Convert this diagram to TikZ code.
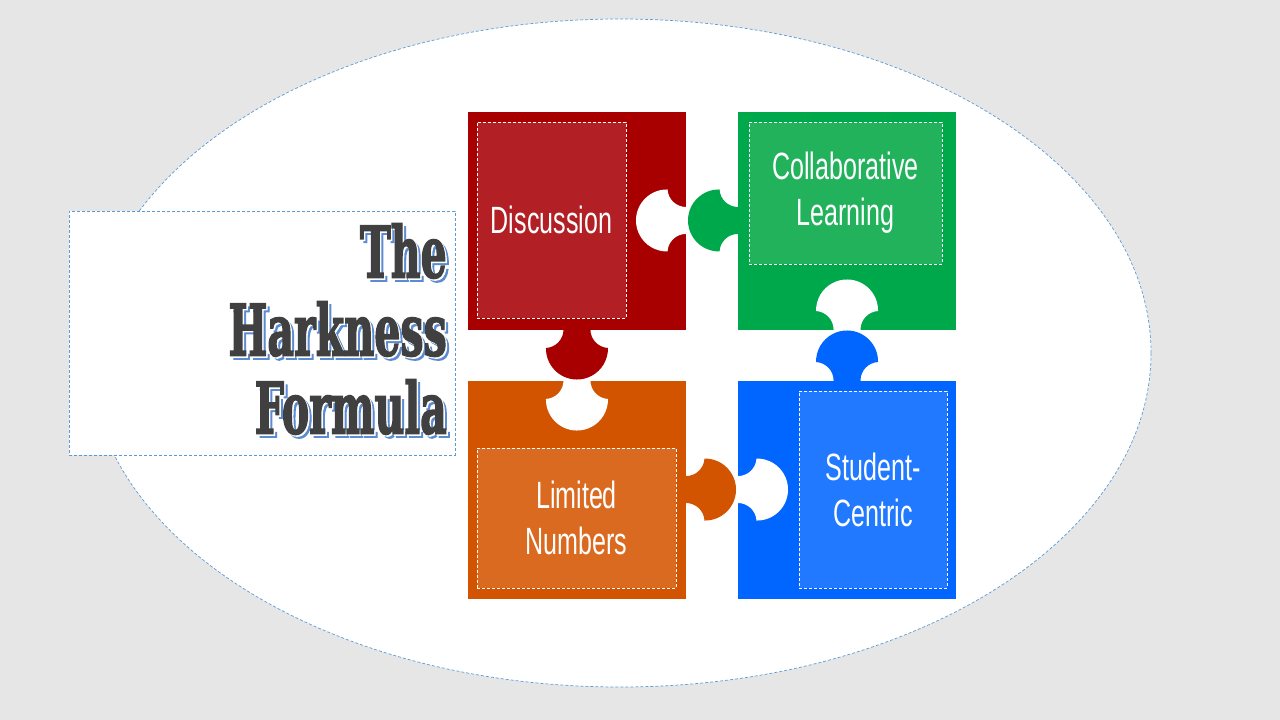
\documentclass[tikz,border=0pt]{standalone}
\usepackage{fontspec}
\usepackage{graphicx}
\usepackage{xcolor}
\usepackage{tikz}
\setmainfont{Liberation Sans}
\newfontfamily\piecefont{Liberation Sans}
\newfontfamily\titlefont{DejaVu Serif}[BoldFeatures={FakeBold=2.5}]

\definecolor{slide}{HTML}{E7E6E6}
\definecolor{outline}{HTML}{5B9BD5}
\definecolor{redD}{HTML}{A80000}
\definecolor{redL}{HTML}{B21F24}
\definecolor{greenD}{HTML}{00A84C}
\definecolor{greenL}{HTML}{22B25C}
\definecolor{orangeD}{HTML}{D25400}
\definecolor{orangeL}{HTML}{DA6A20}
\definecolor{blueD}{HTML}{0066FF}
\definecolor{blueL}{HTML}{2179FF}
\definecolor{ink}{HTML}{404040}
\definecolor{shade}{HTML}{5B8BD0}

\newcommand\squeeze[1]{\scalebox{0.66}[1]{#1}}
\newcommand\narrow[1]{\scalebox{0.58}[1]{#1}}

\tikzset{
  knob/.pic={
    \fill[pic actions] (-13.5,-1) -- (-13.5,0)
      arc[start angle=0,end angle=87,radius=18.5]
      arc[start angle=181,end angle=-1,radius=31]
      arc[start angle=93,end angle=180,radius=18.5]
      -- (13.5,-1) -- cycle;
  },
  piece/.style={minimum size=218pt, inner sep=0pt, outer sep=0pt},
  tag/.style={draw=white, dash pattern=on 3pt off 2pt, line width=0.6pt,
    text=white, inner sep=0pt, align=center,
    font=\piecefont\fontsize{38}{46}\selectfont},
  titletext/.style={anchor=east, inner sep=0pt, align=right,
    font=\titlefont\bfseries\fontsize{71}{78}\selectfont}
}

\begin{document}
\begin{tikzpicture}[x=1pt, y=-1pt]
  % slide in pixel units, y down
  \fill[slide] (0,0) rectangle (1280,720);
  \fill[white] (620,353) ellipse (531 and 334);
  \draw[outline, line width=0.7pt, dash pattern=on 3pt off 2pt] (620,353) ellipse (531 and 334);

  \node[draw=outline, fill=white, line width=0.7pt, dash pattern=on 3pt off 2pt,
    minimum width=386pt, minimum height=244pt, inner sep=0pt] (titlebox) at (262,333) {};

  \node[piece, fill=redD] (disc) at (577,220.5) {};
  \node[piece, fill=greenD] (collab) at (847,220.5) {};
  \node[piece, fill=orangeD] (lim) at (577,489.5) {};
  \node[piece, fill=blueD] (stud) at (847,489.5) {};

  % sockets
  \pic[fill=white] at (lim.north) {knob};
  \pic[fill=white, rotate=-90] at (disc.east) {knob};
  \pic[fill=white, rotate=180] at (collab.south) {knob};
  \pic[fill=white, rotate=90] at (stud.west) {knob};
  % knobs
  \pic[fill=redD] at (disc.south) {knob};
  \pic[fill=greenD, rotate=-90] at (collab.west) {knob};
  \pic[fill=blueD, rotate=180] at (stud.north) {knob};
  \pic[fill=orangeD, rotate=90] at (lim.east) {knob};

  \node[tag, fill=redL, minimum width=149pt, minimum height=196pt] (disctag) at (551.5,220) {\squeeze{Discussion}};
  \node[tag, fill=greenL, minimum width=193pt, minimum height=142pt] (collabtag) at (845.5,193) {\squeeze{Collaborative}\\\squeeze{Learning}};
  \node[tag, fill=orangeL, minimum width=199pt, minimum height=140pt] (limtag) at (576.5,518) {\squeeze{Limited}\\\squeeze{Numbers}};
  \node[tag, fill=blueL, minimum width=148pt, minimum height=197pt] (studtag) at (873,489.5) {\squeeze{Student-}\\\squeeze{Centric}};

  \node[titletext, text=shade] (titleshadow) at (450.5,332.5) {\narrow{The}\\\narrow{Harkness}\\\narrow{Formula}};
  \node[titletext, text=white] (titlegap) at (448.5,330.5) {\narrow{The}\\\narrow{Harkness}\\\narrow{Formula}};
  \node[titletext, text=ink] (title) at (447,329) {\narrow{The}\\\narrow{Harkness}\\\narrow{Formula}};
\end{tikzpicture}
\end{document}
